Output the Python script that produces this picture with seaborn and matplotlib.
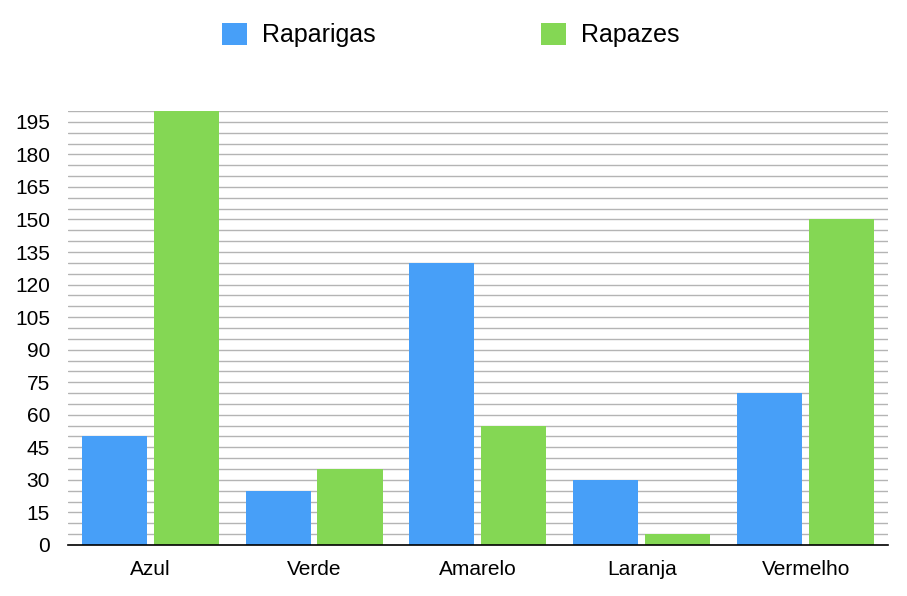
import matplotlib
matplotlib.use("Agg")
import matplotlib.pyplot as plt
import seaborn as sns
import pandas as pd
import numpy as np
from matplotlib.patches import Patch

categories = ["Azul", "Verde", "Amarelo", "Laranja", "Vermelho"]
raparigas = [50, 25, 130, 30, 70]
rapazes = [200, 35, 55, 5, 150]
series_names = ["Raparigas", "Rapazes"]
yticks = list(range(0, 200, 15))

colors = ["#479ff8", "#84d754"]

df = pd.DataFrame({
    "cat": categories * 2,
    "val": raparigas + rapazes,
    "serie": [series_names[0]] * len(categories) + [series_names[1]] * len(categories),
})

sns.set_style("white")
plt.rcParams["font.family"] = ["Liberation Sans", "DejaVu Sans"]
plt.rcParams["text.color"] = "black"
plt.rcParams["xtick.color"] = "black"
plt.rcParams["ytick.color"] = "black"

fig = plt.figure(figsize=(9.07, 5.96), dpi=100)
ax = fig.add_axes([0.075, 0.0856, 0.904, 0.7282])

sns.barplot(data=df, x="cat", y="val", hue="serie", palette=colors,
            width=0.878, gap=0.097, ax=ax, legend=False, saturation=1,
            linewidth=0, edgecolor="none")

ax.set_xlim(-0.5, 4.5)
ax.set_ylim(0, 200)
ax.set_yticks(yticks)
ax.set_yticks(range(0, 201, 5), minor=True)
ax.grid(True, which="both", axis="y", color="#b4b4b4", linewidth=1)
ax.set_axisbelow(True)
for s in ["top", "right", "left"]:
    ax.spines[s].set_visible(False)
ax.spines["bottom"].set_color("black")
ax.spines["bottom"].set_linewidth(1.2)
ax.tick_params(axis="y", which="both", length=0, pad=13, labelsize=15, labelcolor="black")
ax.tick_params(axis="x", length=0, pad=11, labelsize=15, labelcolor="black")
ax.set_xlabel("")
ax.set_ylabel("")

handles = [Patch(facecolor=c, edgecolor="none") for c in colors]
fig.legend(handles, series_names, loc="upper center", bbox_to_anchor=(0.497, 1.0),
           ncol=2, frameon=False, fontsize=18, handlelength=1, handleheight=1,
           handletextpad=0.6, columnspacing=6.6, borderaxespad=0.5,
           labelcolor="black")

fig.savefig("out.png", dpi=100)
